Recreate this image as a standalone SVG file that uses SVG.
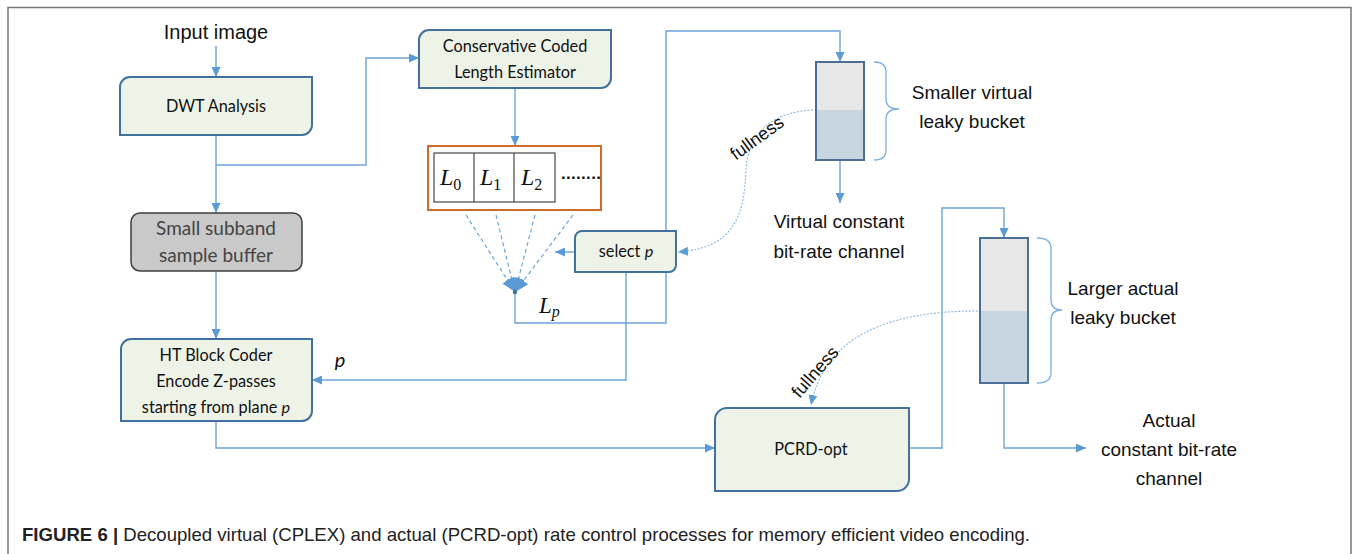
<svg xmlns="http://www.w3.org/2000/svg" width="1356" height="554" viewBox="0 0 1356 554">
<style>
.node{fill:#eef3e8;stroke:#41719c;stroke-width:2}
.nt{font-family:Lato,"Open Sans",sans-serif;font-size:16.3px;fill:#111;text-anchor:middle}
.nt.big{font-size:19px;fill:#444}
.lbl{font-family:"Liberation Sans",Arial,sans-serif;font-size:19px;fill:#111;text-anchor:middle}
.lbl.in{font-size:20px}
.lbl.fl{font-size:18px}
.conn{fill:none;stroke:#6ea3d9;stroke-width:1.4}
.dash{fill:none;stroke:#6ea3d9;stroke-width:1.2;stroke-dasharray:4 3}
.dot{fill:none;stroke:#86b5e3;stroke-width:1.1;stroke-dasharray:2 1.5}
.brace{fill:none;stroke:#7aaee0;stroke-width:1.3}
.math{font-family:"Liberation Serif","DejaVu Serif",serif;fill:#111}
</style>
<defs>
<marker id="ah" markerUnits="userSpaceOnUse" markerWidth="11" markerHeight="9" refX="10" refY="4.5" orient="auto"><path d="M0,0 L10,4.5 L0,9 z" fill="#5b9bd5"/></marker>
<marker id="fan" markerUnits="userSpaceOnUse" markerWidth="15" markerHeight="12" refX="14" refY="6" orient="auto"><path d="M0,0 L14,6 L0,12 z" fill="#5b9bd5"/></marker>
</defs>
<g id="frame" fill="none" stroke="#777" stroke-width="1.5">
<path d="M8,554 V7.5 H1351 V554"/>
</g>
<g id="connectors">
<path class="conn" d="M216,46 V77" marker-end="url(#ah)"/>
<path class="conn" d="M216,135 V213" marker-end="url(#ah)"/>
<path class="conn" d="M216,165 H366 V58 H419" marker-end="url(#ah)"/>
<path class="conn" d="M515,88 V146" marker-end="url(#ah)"/>
<path class="conn" d="M216,271 V339" marker-end="url(#ah)"/>
<path class="conn" d="M216,421 V448 H715" marker-end="url(#ah)"/>
<path class="conn" d="M626,272 V380 H312" marker-end="url(#ah)"/>
<path class="conn" d="M515,292 V323 H666 V31 H840 V62" marker-end="url(#ah)"/>
<path class="conn" d="M575,252 H555" marker-end="url(#ah)"/>
<path class="conn" d="M840,160 V203" marker-end="url(#ah)"/>
<path class="conn" d="M909,448 H942 V208 H1004 V238" marker-end="url(#ah)"/>
<path class="conn" d="M1004,383 V448 H1086" marker-end="url(#ah)"/>
<path class="dash" d="M466,215 L515,292" marker-end="url(#fan)"/>
<path class="dash" d="M496,215 L515,292" marker-end="url(#fan)"/>
<path class="dash" d="M535,215 L515,292" marker-end="url(#fan)"/>
<path class="dash" d="M573,215 L515,292" marker-end="url(#fan)"/>
<circle cx="515" cy="292" r="2.2" fill="#41719c"/>
<path class="dot" d="M813,110 C770,112 748,135 746,170 C744,215 735,248 678,252" marker-end="url(#ah)"/>
<path class="dot" d="M978,311 C890,311 825,335 811,405" marker-end="url(#ah)"/>
<text class="lbl fl" transform="translate(757,138) rotate(-36)" y="6">fullness</text>
<text class="lbl fl" transform="translate(815,372) rotate(-49)" y="6">fullness</text>
<text x="539" y="313" class="math" font-style="italic" font-size="23">L<tspan font-size="16" dy="4">p</tspan></text>
<text x="340" y="367" font-family="Lato,'Open Sans',sans-serif" font-style="italic" font-size="20" fill="#111" text-anchor="middle">p</text>
</g>
<g id="input-image"><text class="lbl in" x="216" y="39">Input image</text></g>
<g id="dwt">
<path class="node" d="M130,77 H312 V125 A10,10 0 0 1 302,135 H120 V87 A10,10 0 0 1 130,77 Z"/>
<text class="nt" x="216" y="112">DWT Analysis</text>
</g>
<g id="ccle">
<path class="node" d="M429,30 H611 V78 A10,10 0 0 1 601,88 H419 V40 A10,10 0 0 1 429,30 Z"/>
<text class="nt" x="515" y="52">Conservative Coded</text>
<text class="nt" x="515" y="78">Length Estimator</text>
</g>
<g id="length-table">
<rect x="428" y="146" width="173" height="64" fill="#fff" stroke="#cf6a2b" stroke-width="2"/>
<rect x="434" y="153" width="121" height="49" fill="#fff" stroke="#555" stroke-width="1.3"/>
<path d="M474,153 V202 M514,153 V202" stroke="#555" stroke-width="1.3"/>
<text x="440" y="185" class="math" font-style="italic" font-size="24">L<tspan font-style="normal" font-size="16" dy="5">0</tspan></text>
<text x="480" y="185" class="math" font-style="italic" font-size="24">L<tspan font-style="normal" font-size="16" dy="5">1</tspan></text>
<text x="521" y="185" class="math" font-style="italic" font-size="24">L<tspan font-style="normal" font-size="16" dy="5">2</tspan></text>
<text x="561" y="179" font-family="Liberation Sans,sans-serif" font-weight="bold" font-size="17" letter-spacing="0.3" fill="#111">........</text>
</g>
<g id="small-buffer">
<rect x="131" y="213" width="171" height="58" rx="9" fill="#c9c9c9" stroke="#3f3f3f" stroke-width="1.5"/>
<text class="nt big" x="216" y="235">Small subband</text>
<text class="nt big" x="216" y="262">sample buffer</text>
</g>
<g id="select-p">
<path class="node" d="M582,231 H676 V265 A7,7 0 0 1 669,272 H575 V238 A7,7 0 0 1 582,231 Z"/>
<text class="nt" x="626" y="257">select <tspan font-style="italic">p</tspan></text>
</g>
<g id="ht-coder">
<path class="node" d="M131,339 H312 V411 A10,10 0 0 1 302,421 H121 V349 A10,10 0 0 1 131,339 Z"/>
<text class="nt" x="216" y="361">HT Block Coder</text>
<text class="nt" x="216" y="387">Encode Z-passes</text>
<text class="nt" x="216" y="413">starting from plane <tspan font-style="italic">p</tspan></text>
</g>
<g id="pcrd">
<path class="node" d="M727,408 H909 V479 A12,12 0 0 1 897,491 H715 V420 A12,12 0 0 1 727,408 Z"/>
<text class="nt" x="811" y="455">PCRD-opt</text>
</g>
<g id="bucket-virtual">
<rect x="816" y="62" width="48" height="48" fill="#e7e7e7"/>
<rect x="816" y="110" width="48" height="50" fill="#c8d6e2"/>
<rect x="816" y="62" width="48" height="98" fill="none" stroke="#4a6e94" stroke-width="2"/>
<path class="brace" d="M874,62 Q886,62 886,72 V99 Q886,109 899,109 Q886,109 886,119 V150 Q886,160 874,160"/>
<text class="lbl" x="972" y="99">Smaller virtual</text>
<text class="lbl" x="972" y="128">leaky bucket</text>
<text class="lbl" x="839" y="228">Virtual constant</text>
<text class="lbl" x="839" y="258">bit-rate channel</text>
</g>
<g id="bucket-actual">
<rect x="980" y="238" width="48" height="73" fill="#e7e7e7"/>
<rect x="980" y="311" width="48" height="72" fill="#c8d6e2"/>
<rect x="980" y="238" width="48" height="145" fill="none" stroke="#4a6e94" stroke-width="2"/>
<path class="brace" d="M1037,238 Q1051,238 1051,248 V300 Q1051,310 1062,310 Q1051,310 1051,320 V373 Q1051,383 1037,383"/>
<text class="lbl" x="1123" y="295">Larger actual</text>
<text class="lbl" x="1123" y="324">leaky bucket</text>
<text class="lbl" x="1169" y="427">Actual</text>
<text class="lbl" x="1169" y="456">constant bit-rate</text>
<text class="lbl" x="1169" y="485">channel</text>
</g>
<g id="caption">
<text x="22" y="541" font-family="'Liberation Sans',Arial,sans-serif" font-size="18.5" fill="#222" textLength="1008" lengthAdjust="spacingAndGlyphs"><tspan font-weight="bold">FIGURE 6 |</tspan> Decoupled virtual (CPLEX) and actual (PCRD-opt) rate control processes for memory efficient video encoding.</text>
</g>
</svg>
